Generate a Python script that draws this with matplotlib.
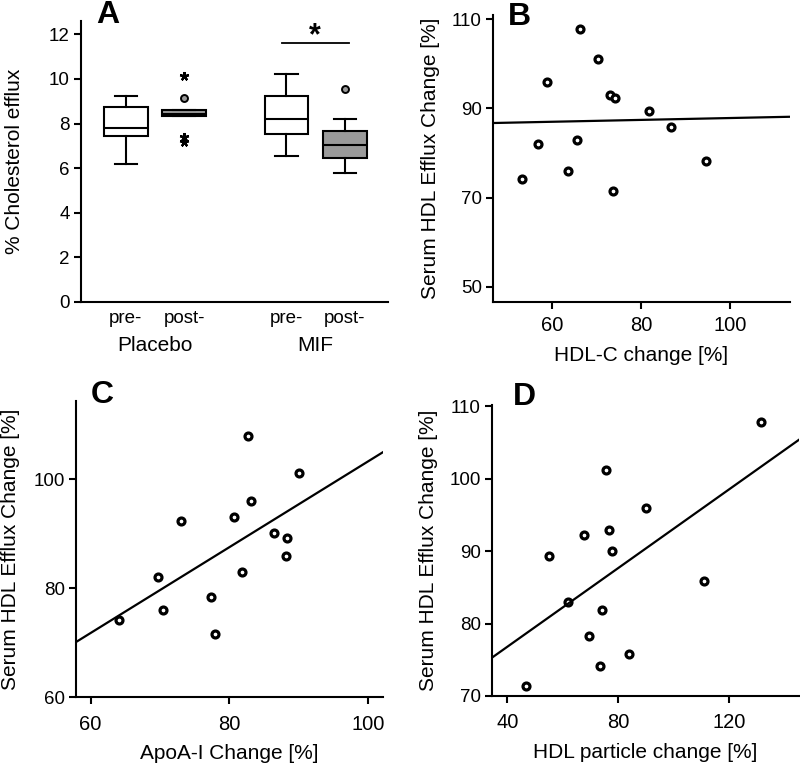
import numpy as np
import matplotlib
matplotlib.use("Agg")
import matplotlib.pyplot as plt
import matplotlib.transforms as mtransforms

plt.rcParams['font.family'] = ['Liberation Sans', 'DejaVu Sans']

# ---- Panel A: box summaries (pre/post, placebo and MIF) ----
box_labels = ['pre-', 'post-', 'pre-', 'post-']
box_pos = [1.0, 2.0, 3.75, 4.75]
box_q1 = [7.44, 8.33, 7.55, 6.47]
box_med = [7.82, 8.45, 8.20, 7.04]
box_q3 = [8.76, 8.61, 9.24, 7.67]
box_lo = [6.17, 8.33, 6.55, 5.77]
box_hi = [9.25, 8.61, 10.24, 8.22]
box_fill = ['white', '#9a9a9a', 'white', '#9a9a9a']
groups = ['Placebo', 'MIF']

# outliers (circles) and extremes (stars)
circ_x = [2.0, 4.75]
circ_y = [9.16, 9.54]
star_x = [2.0, 2.0, 2.0]
star_y = [10.15, 7.41, 7.19]

# ---- Panels B-D: scatter data ----
efflux_b = [107.7, 101.1, 95.9, 92.9, 92.2, 89.3, 85.9, 83.0, 82.0, 75.9, 74.2, 71.5, 78.3]
hdlc_b = [66.3, 70.4, 58.8, 73.0, 74.1, 81.8, 86.7, 65.5, 56.9, 63.6, 53.2, 73.7, 94.6]
fit_b_x = [46.7, 113.5]
fit_b_y = [86.7, 88.1]

apoa_c = [82.7, 90.1, 83.1, 73.0, 80.7, 86.5, 88.4, 88.2, 69.7, 81.9, 77.4, 70.4, 64.1, 77.9]
efflux_c = [107.9, 101.2, 96.1, 92.4, 93.0, 90.1, 89.3, 85.9, 82.0, 83.0, 78.3, 75.9, 74.2, 71.5]
fit_c_x = [57.9, 102.2]
fit_c_y = [70.1, 105.0]

hdlp_d = [131.6, 75.5, 90.2, 76.8, 67.7, 55.2, 77.8, 111.1, 61.8, 74.3, 69.4, 83.9, 73.5, 46.7]
efflux_d = [107.8, 101.2, 96.0, 92.9, 92.3, 89.3, 90.1, 85.9, 83.0, 81.9, 78.3, 75.8, 74.2, 71.4]
fit_d_x = [34.5, 145.3]
fit_d_y = [75.3, 105.4]

W, H = 800, 767
fig = plt.figure(figsize=(W / 100, H / 100), dpi=100)


def px_axes(left, top, right, bottom):
    return fig.add_axes([left / W, 1 - bottom / H, (right - left) / W, (bottom - top) / H])


def style(ax, xpad=6, xsize=14.5):
    for s in ['top', 'right']:
        ax.spines[s].set_visible(False)
    for s in ['left', 'bottom']:
        ax.spines[s].set_linewidth(1.5)
    ax.tick_params(direction='out', length=5, width=1.5, labelsize=13.5, pad=3)
    ax.tick_params(axis='x', pad=xpad, labelsize=xsize)


LBL = 15
MK = dict(linestyle='none', marker='o', ms=5, mfc='white', mec='black', mew=2.3)

# ===== A =====
axA = px_axes(81, 21, 388, 302)
style(axA, xsize=13.5)
stats = []
for i in range(4):
    stats.append(dict(med=box_med[i], q1=box_q1[i], q3=box_q3[i],
                      whislo=box_lo[i], whishi=box_hi[i], fliers=[]))
bp = axA.bxp(stats, positions=box_pos, widths=0.75, capwidths=0.38,
             patch_artist=True, showfliers=False,
             boxprops=dict(linewidth=1.5, edgecolor='black'),
             medianprops=dict(color='black', linewidth=1.5),
             whiskerprops=dict(color='black', linewidth=1.5),
             capprops=dict(color='black', linewidth=1.5))
for patch, c in zip(bp['boxes'], box_fill):
    patch.set_facecolor(c)
axA.plot(circ_x, circ_y, linestyle='none', marker='o', ms=5, mfc='#9a9a9a', mec='black', mew=1.4)
axA.plot(star_x, star_y, linestyle='none', marker=(5, 2, 0), ms=6.5, mec='black', mew=1.6)
axA.set_xlim(0.23, 5.49)
axA.set_ylim(0, 12.6)
axA.set_yticks([0, 2, 4, 6, 8, 10, 12])
axA.set_xticks(box_pos)
axA.set_xticklabels(box_labels)
axA.tick_params(axis='x', length=0, pad=6)
axA.set_ylabel('% Cholesterol efflux', fontsize=LBL, labelpad=18)
trans = mtransforms.blended_transform_factory(axA.transData, axA.transAxes)
axA.text((box_pos[0] + box_pos[1]) / 2, -0.155, groups[0], transform=trans,
         ha='center', va='center', fontsize=LBL)
axA.text((box_pos[2] + box_pos[3]) / 2, -0.155, groups[1], transform=trans,
         ha='center', va='center', fontsize=LBL)
axA.plot([3.67, 4.82], [11.63, 11.63], color='black', linewidth=1.3, clip_on=False)
axA.text(4.24, 11.55, '*', ha='center', va='baseline', fontsize=22, fontweight='bold')

# ===== B =====
axB = px_axes(493, 15, 790, 302)
style(axB, xpad=5)
axB.plot(hdlc_b, efflux_b, **MK)
axB.plot(fit_b_x, fit_b_y, color='black', linewidth=1.6)
axB.set_xlim(46.7, 113.5)
axB.set_ylim(46.6, 110.9)
axB.set_xticks([60, 80, 100])
axB.set_yticks([50, 70, 90, 110])
axB.set_xlabel('HDL-C change [%]', fontsize=LBL, labelpad=8)
axB.set_ylabel('Serum HDL Efflux Change [%]', fontsize=LBL, labelpad=9)

# ===== C =====
axC = px_axes(76, 401, 383, 697)
style(axC, xpad=8)
axC.plot(apoa_c, efflux_c, **MK)
axC.plot(fit_c_x, fit_c_y, color='black', linewidth=1.6)
axC.set_xlim(57.9, 102.2)
axC.set_ylim(60, 114.4)
axC.set_xticks([60, 80, 100])
axC.set_yticks([60, 80, 100])
axC.set_xlabel('ApoA-I Change [%]', fontsize=LBL, labelpad=7)
axC.set_ylabel('Serum HDL Efflux Change [%]', fontsize=LBL, labelpad=10)

# ===== D =====
axD = px_axes(492, 405, 799, 696)
style(axD, xpad=7)
axD.plot(hdlp_d, efflux_d, **MK)
axD.plot(fit_d_x, fit_d_y, color='black', linewidth=1.6)
axD.set_xlim(34.5, 145.3)
axD.set_ylim(70, 110.2)
axD.set_xticks([40, 80, 120])
axD.set_yticks([70, 80, 90, 100, 110])
axD.set_xlabel('HDL particle change [%]', fontsize=LBL, labelpad=8)
axD.set_ylabel('Serum HDL Efflux Change [%]', fontsize=LBL, labelpad=8)

# panel letters
for lab, x, y in [('A', 108, 23), ('B', 519, 25), ('C', 102, 403), ('D', 524, 405)]:
    fig.text(x / W, 1 - y / H, lab, ha='center', va='baseline', fontsize=23, fontweight='bold')

fig.savefig('out.png', dpi=100)
